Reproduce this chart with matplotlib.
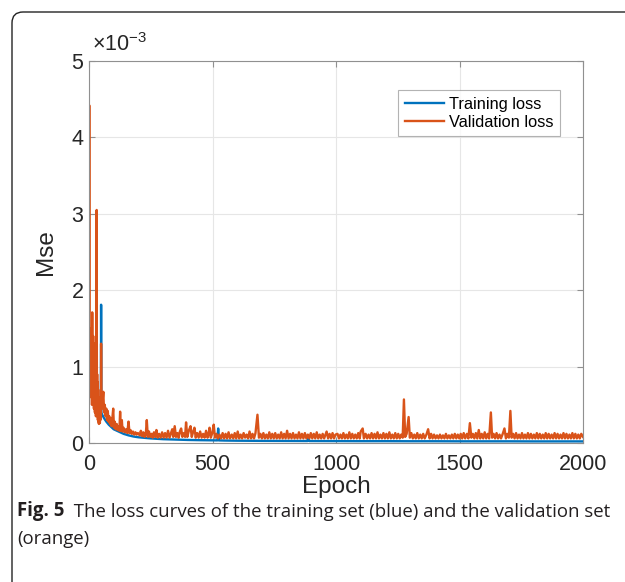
import matplotlib.pyplot as plt
from matplotlib.patches import FancyBboxPatch

# values in units of 1e-3
train_epoch = [0, 2, 5, 10, 15, 20, 25, 30, 35, 40, 45, 48, 49, 50, 52, 60, 70, 80, 90, 100,
               120, 140, 160, 180, 200, 250, 300, 350, 400, 450, 500, 520, 523, 526, 550, 600,
               700, 800, 885, 888, 891, 1000, 1100, 1200, 1300, 1400, 1500, 1600, 1700, 1800,
               1900, 2000]
train_loss = [0.9, 1.2, 1.0, 0.9, 0.8, 0.7, 0.6, 0.55, 0.5, 0.45, 0.42, 0.4, 1.81, 0.4, 0.38,
              0.33, 0.28, 0.24, 0.21, 0.18, 0.15, 0.12, 0.1, 0.085, 0.075, 0.06, 0.05, 0.045,
              0.04, 0.037, 0.035, 0.034, 0.19, 0.034, 0.032, 0.03, 0.028, 0.027, 0.026, 0.1,
              0.026, 0.025, 0.024, 0.024, 0.023, 0.023, 0.022, 0.022, 0.022, 0.021, 0.021, 0.021]

val_early = [(0, 0.8), (1, 4.42), (2, 1.0), (3, 1.5), (4, 0.7), (5, 1.45), (6, 0.9), (7, 1.3),
             (8, 0.6), (9, 1.5), (10, 1.0), (11, 1.3), (12, 0.5), (13, 1.71), (14, 0.8),
             (15, 1.2), (16, 0.6), (17, 1.4), (18, 0.5), (19, 1.1), (20, 0.45), (21, 1.3),
             (22, 0.6), (23, 1.0), (24, 0.4), (25, 1.2), (26, 0.5), (27, 0.9), (28, 0.35),
             (29, 1.0), (30, 0.6), (31, 3.05), (32, 0.5), (33, 0.9), (34, 0.35), (35, 0.8),
             (36, 0.3), (37, 0.7), (38, 0.28), (39, 0.6), (40, 0.25), (41, 0.55), (42, 0.3),
             (43, 0.5), (44, 0.26), (45, 0.45), (46, 0.3), (47, 0.5), (48, 0.35), (49, 1.3),
             (50, 0.6), (53, 0.45), (55, 0.55), (58, 0.67), (61, 0.4), (64, 0.5), (67, 0.35),
             (70, 0.45), (73, 0.3), (76, 0.42), (79, 0.28), (82, 0.35), (85, 0.25), (88, 0.32),
             (91, 0.22), (94, 0.3), (98, 0.45), (101, 0.2), (104, 0.28), (108, 0.18),
             (112, 0.25), (116, 0.17), (120, 0.22), (123, 0.16), (126, 0.41), (129, 0.16),
             (133, 0.30), (136, 0.15), (140, 0.2), (145, 0.14), (150, 0.18), (155, 0.13),
             (160, 0.28), (164, 0.13), (168, 0.17), (173, 0.12), (178, 0.15), (183, 0.11),
             (188, 0.14), (193, 0.11), (198, 0.13)]
val_mid = [(205, 0.1), (210, 0.16), (215, 0.09), (220, 0.14), (225, 0.08), (230, 0.12),
           (234, 0.30), (238, 0.08), (243, 0.15), (248, 0.08), (253, 0.12), (258, 0.07),
           (263, 0.14), (268, 0.08), (273, 0.17), (278, 0.07), (284, 0.12), (290, 0.07),
           (296, 0.14), (302, 0.07), (308, 0.13), (314, 0.07), (320, 0.16), (326, 0.07),
           (332, 0.13), (337, 0.18), (341, 0.08), (347, 0.22), (352, 0.08), (358, 0.13),
           (363, 0.07), (368, 0.15), (373, 0.19), (378, 0.08), (384, 0.13), (389, 0.08),
           (393, 0.27), (398, 0.08), (404, 0.16), (411, 0.22), (416, 0.08), (421, 0.14),
           (427, 0.20), (432, 0.07), (438, 0.13), (444, 0.07), (450, 0.15), (456, 0.07),
           (462, 0.12), (468, 0.07), (474, 0.16), (480, 0.07), (485, 0.13), (488, 0.20),
           (493, 0.07), (499, 0.13), (505, 0.24), (510, 0.07), (516, 0.12), (522, 0.06),
           (528, 0.11), (535, 0.06), (541, 0.13), (547, 0.06), (553, 0.12), (559, 0.06),
           (565, 0.14), (571, 0.06), (578, 0.11), (584, 0.06), (590, 0.13), (596, 0.06),
           (602, 0.15), (608, 0.06), (614, 0.11), (620, 0.06), (626, 0.13), (632, 0.07),
           (638, 0.11), (644, 0.06), (650, 0.15), (656, 0.06), (662, 0.12), (668, 0.06),
           (674, 0.13), (682, 0.37), (688, 0.07), (694, 0.12), (700, 0.06), (706, 0.13),
           (712, 0.06), (718, 0.11), (724, 0.06), (730, 0.14), (736, 0.06), (742, 0.12),
           (748, 0.06), (754, 0.13), (760, 0.06), (766, 0.11), (772, 0.06), (778, 0.14),
           (784, 0.06), (790, 0.12), (796, 0.06), (802, 0.16), (808, 0.06), (814, 0.12),
           (820, 0.06), (826, 0.13), (832, 0.06), (838, 0.11), (844, 0.06), (850, 0.14),
           (856, 0.06), (862, 0.12), (868, 0.06), (874, 0.13), (880, 0.06), (886, 0.11),
           (892, 0.06), (898, 0.13), (904, 0.06), (910, 0.12), (916, 0.06), (922, 0.14),
           (928, 0.06), (934, 0.11), (940, 0.06), (946, 0.12), (952, 0.06), (962, 0.15),
           (968, 0.06), (974, 0.12), (980, 0.06), (986, 0.13), (992, 0.06), (998, 0.11)]
val_late = [(1006, 0.12), (1012, 0.06), (1018, 0.11), (1024, 0.06), (1030, 0.13), (1036, 0.06),
            (1042, 0.11), (1048, 0.06), (1054, 0.14), (1060, 0.06), (1066, 0.12), (1072, 0.06),
            (1078, 0.11), (1084, 0.06), (1090, 0.13), (1096, 0.06), (1100, 0.15), (1108, 0.19),
            (1113, 0.06), (1120, 0.12), (1126, 0.06), (1132, 0.11), (1138, 0.06), (1144, 0.13),
            (1150, 0.06), (1156, 0.12), (1162, 0.06), (1168, 0.14), (1174, 0.06), (1180, 0.11),
            (1186, 0.06), (1192, 0.13), (1198, 0.06), (1204, 0.12), (1210, 0.06), (1216, 0.14),
            (1222, 0.06), (1228, 0.11), (1234, 0.06), (1240, 0.13), (1246, 0.06), (1252, 0.12),
            (1258, 0.06), (1264, 0.11), (1270, 0.07), (1275, 0.57), (1280, 0.08), (1286, 0.12),
            (1294, 0.34), (1299, 0.07), (1305, 0.13), (1311, 0.06), (1317, 0.11), (1323, 0.06),
            (1329, 0.13), (1335, 0.06), (1341, 0.11), (1347, 0.06), (1353, 0.12), (1359, 0.06),
            (1366, 0.11), (1373, 0.18), (1379, 0.06), (1385, 0.12), (1391, 0.06), (1397, 0.11),
            (1403, 0.06), (1409, 0.1), (1415, 0.06), (1421, 0.11), (1427, 0.06), (1433, 0.1),
            (1439, 0.06), (1445, 0.12), (1451, 0.06), (1457, 0.1), (1463, 0.06), (1469, 0.11),
            (1475, 0.06), (1481, 0.12), (1487, 0.06), (1493, 0.11), (1499, 0.06), (1505, 0.12),
            (1511, 0.06), (1517, 0.13), (1523, 0.06), (1530, 0.12), (1536, 0.06), (1542, 0.26),
            (1548, 0.07), (1554, 0.12), (1560, 0.06), (1566, 0.13), (1572, 0.06), (1578, 0.17),
            (1584, 0.06), (1590, 0.12), (1596, 0.06), (1602, 0.14), (1608, 0.06), (1614, 0.12),
            (1620, 0.06), (1627, 0.40), (1632, 0.07), (1638, 0.12), (1644, 0.06), (1650, 0.13),
            (1656, 0.06), (1662, 0.11), (1668, 0.06), (1675, 0.12), (1682, 0.19), (1688, 0.06),
            (1694, 0.12), (1700, 0.07), (1706, 0.42), (1711, 0.07), (1717, 0.12), (1723, 0.06),
            (1729, 0.13), (1735, 0.06), (1741, 0.11), (1747, 0.06), (1753, 0.13), (1759, 0.06),
            (1765, 0.11), (1771, 0.06), (1777, 0.13), (1783, 0.06), (1789, 0.12), (1795, 0.06),
            (1801, 0.11), (1807, 0.06), (1813, 0.13), (1819, 0.06), (1825, 0.12), (1831, 0.06),
            (1837, 0.11), (1843, 0.06), (1849, 0.13), (1855, 0.06), (1861, 0.12), (1867, 0.06),
            (1873, 0.11), (1879, 0.06), (1885, 0.13), (1891, 0.06), (1897, 0.12), (1903, 0.06),
            (1909, 0.11), (1915, 0.06), (1921, 0.13), (1927, 0.06), (1933, 0.12), (1939, 0.06),
            (1945, 0.11), (1951, 0.06), (1957, 0.13), (1963, 0.06), (1969, 0.12), (1975, 0.06),
            (1981, 0.11), (1987, 0.06), (1993, 0.12), (2000, 0.08)]

x_ticks = [0, 500, 1000, 1500, 2000]
y_ticks = [0, 1, 2, 3, 4, 5]

val_points = val_early + val_mid + val_late
val_epoch = [p[0] for p in val_points]
val_loss = [p[1] for p in val_points]

plt.rcParams['font.family'] = ['Liberation Sans', 'DejaVu Sans']
plt.rcParams['mathtext.fontset'] = 'custom'
plt.rcParams['mathtext.rm'] = 'Liberation Sans'

fig = plt.figure(figsize=(6.25, 5.82), dpi=100)
W, H = 625, 582

# outer box with rounded top-left corner (display pixels)
box = FancyBboxPatch((12, -60), 700, H - 12 + 60, boxstyle="round,pad=0,rounding_size=11",
                     transform=None, facecolor='none', edgecolor='#222222', linewidth=1.0)
fig.patches.append(box)

ax = fig.add_axes([89 / W, 1 - 443 / H, (583 - 89) / W, (443 - 61) / H])
ax.plot(train_epoch, train_loss, color='#0072BD', lw=1.7, label='Training loss')
ax.plot(val_epoch, val_loss, color='#D95319', lw=1.7, label='Validation loss')

ax.set_xlim(0, 2000)
ax.set_ylim(0, 5)
ax.set_xticks(x_ticks)
ax.set_yticks(y_ticks)
ax.grid(True, color='#e6e6e6', lw=0.8)
ax.set_axisbelow(True)
for s in ax.spines.values():
    s.set_color('#909090')
    s.set_linewidth(0.8)
ax.tick_params(direction='in', length=4, width=0.8, color='#909090', top=True, right=True,
               labelsize=15.5, labelcolor='#262626', pad=4)
ax.tick_params(axis='x', pad=8)
ax.set_xlabel('Epoch', fontsize=17.5, color='#262626', labelpad=1)
ax.set_ylabel('Mse', fontsize=17.5, color='#262626', labelpad=10)

ax.text(0.006, 1.012, r'$\times$10$^{\mathregular{-3}}$', transform=ax.transAxes, fontsize=15.5,
        color='#262626', ha='left', va='bottom')

leg = ax.legend(loc='upper right', bbox_to_anchor=(560 / W, 1 - 90 / H),
                bbox_transform=fig.transFigure, fontsize=11.8, frameon=True, fancybox=False,
                edgecolor='#a0a0a0', handlelength=2.4, handletextpad=0.3, borderpad=0.4,
                labelspacing=0.2, borderaxespad=0)
leg.get_frame().set_linewidth(0.8)

t1 = fig.text(17 / W, 1 - 516 / H, 'Fig. 5', fontsize=13.4, fontweight='bold',
              family='Open Sans', color='#231f20')
ax.annotate('  The loss curves of the training set (blue) and the validation set',
            xy=(1, 0), xycoords=t1, fontsize=13.4, family='Open Sans', color='#231f20',
            va='bottom', ha='left')
fig.text(17 / W, 1 - 544 / H, '(orange)', fontsize=13.4, family='Open Sans', color='#231f20')

fig.savefig('out.png', dpi=100)
